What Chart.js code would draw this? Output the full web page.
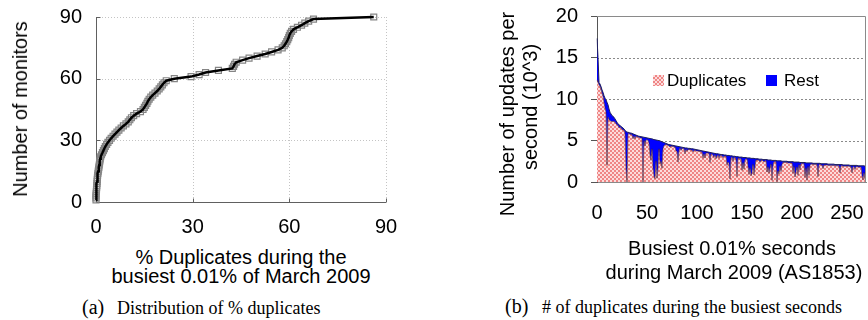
<!DOCTYPE html>
<html>
<head>
<meta charset="utf-8">
<script src="https://cdn.jsdelivr.net/npm/chart.js@4/dist/chart.umd.min.js"></script>
<style>
  body { margin: 0; background: #fff; }
  #page { position: relative; width: 868px; height: 320px; overflow: hidden; font-family: 'Liberation Sans', Arial, sans-serif; color: #000; }
  .box { position: absolute; }
  .t { position: absolute; white-space: nowrap; transform: translate(-50%, -50%); font-size: 20px; line-height: 20px; }
  .rot { transform: translate(-50%, -50%) rotate(-90deg); }
  .cap { position: absolute; white-space: nowrap; font-family: 'Liberation Serif', 'Times New Roman', serif; }
  .leg { position: absolute; font-size: 17px; line-height: 17px; white-space: nowrap; }
  .sw { position: absolute; width: 11px; height: 11px; }
</style>
</head>
<body>
<div id="page">
  <div class="box" style="left:0;top:0;width:430px;height:240px;"><canvas id="dupCdf"></canvas></div>
  <div class="box" style="left:460px;top:0;width:408px;height:240px;"><canvas id="busiest"></canvas></div>

  <div class="t rot" style="left:20px;top:109px;">Number of monitors</div>
  <div class="t" style="left:241px;top:257px;">% Duplicates during the</div>
  <div class="t" style="left:241px;top:276px;">busiest 0.01% of March 2009</div>

  <div class="t rot" style="left:507px;top:114px;">Number of updates per</div>
  <div class="t rot" style="left:530px;top:107px;">second (10^3)</div>
  <div class="t" style="left:732px;top:248px;">Busiest 0.01% seconds</div>
  <div class="t" style="left:734px;top:272px;">during March 2009 (AS1853)</div>

  <div class="sw" style="left:653px;top:75px;background:repeating-conic-gradient(#ef8585 0 25%, #fcdcdc 0 50%) 0 0/4px 4px;"></div>
  <div class="leg" style="left:667px;top:72px;">Duplicates</div>
  <div class="sw" style="left:766px;top:75px;background:#0000ff;"></div>
  <div class="leg" style="left:784px;top:72px;">Rest</div>

  <div class="cap" style="left:82px;top:297px;font-size:20px;line-height:20px;">(a)</div>
  <div class="cap" style="left:117px;top:299px;font-size:18px;line-height:18px;">Distribution of % duplicates</div>
  <div class="cap" style="left:505px;top:296px;font-size:20px;line-height:20px;">(b)</div>
  <div class="cap" style="left:542px;top:298px;font-size:18px;line-height:18px;">&#35; of duplicates during the busiest seconds</div>
</div>

<script>
// (a) CDF: % duplicates per monitor, sorted
const pctDuplicates = [
  0, 0, 0, 0.05, 0.1, 0.15, 0.2, 0.25, 0.3, 0.35,
  0.4, 0.45, 0.5, 0.6, 0.7, 0.8, 0.9, 1.0, 1.1, 1.2,
  1.3, 1.45, 1.7, 2.0, 2.3, 2.6, 2.9, 3.3, 3.7, 4.2,
  4.7, 5.3, 5.9, 6.5, 7.1, 7.8, 8.5, 9.3, 10.0, 10.5,
  11.0, 11.7, 12.6, 13.8, 14.6, 15.0, 15.4, 15.8, 16.1, 16.5,
  17.0, 17.6, 18.3, 19.0, 19.6, 20.1, 20.6, 21.1, 21.8, 24.3,
  29.5, 32.0, 34.0, 38.0, 42.3, 42.7, 43.0, 43.5, 45.5, 47.5,
  50.0, 52.5, 54.5, 56.5, 57.8, 58.4, 58.8, 59.2, 59.5, 59.8,
  60.0, 60.3, 60.7, 61.3, 62.5, 63.8, 64.8, 66.0, 67.5, 86.2
];
const monitorCount = [
  1, 2, 3, 4, 5, 6, 7, 8, 9, 10,
  11, 12, 13, 14, 15, 16, 17, 18, 19, 20,
  21, 22, 23, 24, 25, 26, 27, 28, 29, 30,
  31, 32, 33, 34, 35, 36, 37, 38, 39, 40,
  41, 42, 43, 44, 45, 46, 47, 48, 49, 50,
  51, 52, 53, 54, 55, 56, 57, 58, 59, 60,
  61, 62, 63, 64, 65, 66, 67, 68, 69, 70,
  71, 72, 73, 74, 75, 76, 77, 78, 79, 80,
  81, 82, 83, 84, 85, 86, 87, 88, 89, 90
];
const cdfXTicks = [0, 30, 60, 90];
const cdfYTicks = [0, 30, 60, 90];

// (b) busiest seconds, thousands of updates per second
const duplicates = [
  12.3, 12.0, 11.7, 11.5, 11.1, 10.7, 10.3, 9.6, 8.9, 8.4,
  2.0, 7.8, 7.5, 7.4, 7.3, 7.3, 7.3, 7.3, 7.2, 7.0,
  6.9, 6.8, 6.5, 6.6, 6.5, 6.3, 6.3, 6.2, 5.9, 1.6,
  0, 5.8, 5.8, 5.75, 5.7, 5.7, 5.2, 5.55, 5.2, 5.5,
  5.45, 5.4, 5.35, 5.3, 5.3, 5.3, 0, 5.0, 4.35, 5.05,
  5.1, 5.0, 4.65, 3.25, 2.6, 4.0, 1.65, 0.7, 0.4, 2.55,
  0.45, 1.6, 4.0, 2.15, 2.5, 1.65, 4.0, 4.35, 4.5, 4.5,
  4.45, 4.4, 4.35, 4.2, 4.3, 4.3, 4.25, 4.25, 4.2, 3.75,
  3.7, 2.4, 3.75, 4.1, 3.8, 4.05, 4.0, 4.0, 3.4, 3.95,
  3.7, 3.9, 3.9, 3.9, 3.85, 3.85, 3.6, 3.8, 3.8, 3.75,
  3.75, 3.7, 3.7, 3.65, 3.65, 3.6, 2.85, 3.4, 2.9, 3.5,
  3.5, 3.45, 3.45, 2.35, 3.4, 3.35, 3.2, 2.95, 3.3, 2.8,
  3.1, 3.25, 2.85, 3.2, 3.15, 3.15, 2.9, 3.1, 3.1, 3.1,
  2.0, 2.4, 2.2, 0.35, 2.85, 3.0, 2.5, 2.95, 2.95, 2.65,
  0.65, 2.9, 2.85, 2.7, 2.85, 1.4, 2.35, 1.55, 2.65, 2.8,
  2.75, 1.9, 0.9, 1.7, 0.75, 1.05, 2.15, 0.85, 1.8, 2.65,
  2.65, 2.65, 2.6, 2.35, 2.6, 2.6, 2.55, 2.4, 2.55, 2.55,
  1.2, 1.85, 1.05, 1.65, 2.15, 0.2, 2.0, 2.45, 2.45, 2.45,
  0.05, 1.35, 0.95, 1.95, 1.25, 2.1, 2.35, 2.35, 2.35, 2.35,
  2.35, 2.3, 2.3, 2.3, 2.3, 2.3, 1.05, 1.9, 0.6, 1.2,
  1.8, 0.8, 2.1, 1.45, 2.2, 2.2, 2.2, 2.2, 0.55, 1.7,
  0.2, 1.9, 0.8, 2.0, 2.15, 2.15, 2.1, 2.1, 2.1, 2.1,
  2.1, 0.65, 2.1, 2.1, 2.05, 2.05, 1.6, 2.05, 2.05, 2.05,
  2.05, 2.0, 2.0, 2.0, 2.0, 2.0, 2.0, 2.0, 1.95, 1.95,
  1.95, 1.95, 1.95, 1.1, 1.95, 1.95, 1.9, 1.9, 1.9, 1.9,
  1.9, 1.9, 1.9, 1.85, 1.85, 1.1, 1.85, 1.85, 1.5, 1.85,
  1.85, 1.8, 1.8, 1.8, 1.8, 0.75, 0.25, 1.15, 0.3, 0.4
];
const rest = [
  5.0, 3.0, 0.3, 0.3, 0.4, 0.4, 0.5, 0.8, 1.2, 1.5,
  7.6, 1.5, 1.3, 1.0, 0.9, 0.7, 0.6, 0.5, 0.4, 0.4,
  0.3, 0.2, 0.4, 0.2, 0.2, 0.3, 0.2, 0.2, 0.3, 4.5,
  6.0, 0.2, 0.15, 0.15, 0.2, 0.15, 0.6, 0.2, 0.5, 0.15,
  0.15, 0.15, 0.15, 0.2, 0.15, 0.15, 5.4, 0.4, 1.0, 0.3,
  0.2, 0.3, 0.6, 2.0, 2.6, 1.2, 3.5, 4.4, 4.7, 2.5,
  4.6, 3.4, 1.0, 2.8, 2.4, 3.2, 0.8, 0.4, 0.2, 0.15,
  0.15, 0.15, 0.15, 0.3, 0.15, 0.15, 0.15, 0.15, 0.15, 0.6,
  0.6, 1.9, 0.5, 0.15, 0.4, 0.15, 0.15, 0.15, 0.7, 0.15,
  0.4, 0.15, 0.15, 0.15, 0.15, 0.15, 0.4, 0.15, 0.15, 0.15,
  0.15, 0.15, 0.15, 0.15, 0.15, 0.15, 0.9, 0.3, 0.8, 0.15,
  0.15, 0.15, 0.15, 1.2, 0.15, 0.15, 0.3, 0.5, 0.15, 0.6,
  0.3, 0.15, 0.5, 0.15, 0.15, 0.15, 0.4, 0.15, 0.15, 0.15,
  1.2, 0.8, 1.0, 2.8, 0.3, 0.15, 0.6, 0.15, 0.15, 0.4,
  2.4, 0.15, 0.15, 0.3, 0.15, 1.6, 0.6, 1.4, 0.3, 0.15,
  0.15, 1.0, 2.0, 1.2, 2.1, 1.8, 0.7, 2.0, 1.0, 0.15,
  0.15, 0.15, 0.15, 0.4, 0.15, 0.15, 0.15, 0.3, 0.15, 0.15,
  1.5, 0.8, 1.6, 1.0, 0.5, 2.4, 0.6, 0.15, 0.15, 0.15,
  2.5, 1.2, 1.6, 0.6, 1.3, 0.4, 0.15, 0.15, 0.15, 0.15,
  0.15, 0.15, 0.15, 0.15, 0.15, 0.15, 1.4, 0.5, 1.8, 1.2,
  0.6, 1.6, 0.3, 0.9, 0.15, 0.15, 0.15, 0.15, 1.8, 0.6,
  2.1, 0.4, 1.5, 0.3, 0.15, 0.15, 0.15, 0.15, 0.15, 0.15,
  0.15, 1.6, 0.15, 0.15, 0.15, 0.15, 0.6, 0.15, 0.15, 0.15,
  0.15, 0.15, 0.15, 0.15, 0.15, 0.15, 0.15, 0.15, 0.15, 0.15,
  0.15, 0.15, 0.15, 1.0, 0.15, 0.15, 0.15, 0.15, 0.15, 0.15,
  0.15, 0.15, 0.15, 0.15, 0.15, 0.9, 0.15, 0.15, 0.5, 0.15,
  0.15, 0.15, 0.15, 0.15, 0.15, 1.2, 1.7, 0.8, 1.6, 1.5
];
const secondRank = duplicates.map((_, i) => i);
const busyXTicks = [0, 50, 100, 150, 200, 250];
const busyYTicks = [0, 5, 10, 15, 20];

const sans = { family: "'Liberation Sans', Arial, sans-serif", size: 20 };

// keep the plot area where the layout padding puts it
function noAxisPadding(s) {
  s.paddingTop = 0; s.paddingBottom = 0; s.paddingLeft = 0; s.paddingRight = 0;
}

// ---------- (a) ----------
const cdfFrame = {
  id: 'cdfFrame',
  beforeDatasetsDraw(chart) {
    const { ctx, chartArea: a, scales: { x, y } } = chart;
    ctx.save();
    ctx.lineWidth = 1;
    ctx.strokeStyle = '#c4c4c4';
    ctx.setLineDash([1, 2]);
    cdfXTicks.slice(1).forEach(v => {
      const px = Math.round(x.getPixelForValue(v)) + 0.5;
      ctx.beginPath(); ctx.moveTo(px, a.top); ctx.lineTo(px, a.bottom); ctx.stroke();
    });
    cdfYTicks.slice(1).forEach(v => {
      const py = Math.round(y.getPixelForValue(v)) + 0.5;
      ctx.beginPath(); ctx.moveTo(a.left, py); ctx.lineTo(a.right, py); ctx.stroke();
    });
    ctx.setLineDash([]);
    ctx.strokeStyle = '#606060';
    const l = Math.round(a.left) + 0.5, b = Math.round(a.bottom) + 0.5;
    ctx.beginPath(); ctx.moveTo(l, a.top); ctx.lineTo(l, b); ctx.lineTo(a.right, b); ctx.stroke();
    // inside tick marks
    cdfXTicks.forEach(v => {
      const px = Math.round(x.getPixelForValue(v)) + 0.5;
      ctx.beginPath(); ctx.moveTo(px, b); ctx.lineTo(px, b - 4); ctx.stroke();
    });
    cdfYTicks.forEach(v => {
      const py = Math.round(y.getPixelForValue(v)) + 0.5;
      ctx.beginPath(); ctx.moveTo(l, py); ctx.lineTo(l + 4, py); ctx.stroke();
    });
    ctx.restore();
  }
};

const cdfPoints = pctDuplicates.map((v, i) => ({ x: v, y: monitorCount[i] }));

new Chart(document.getElementById('dupCdf'), {
  type: 'scatter',
  data: {
    datasets: [
      { data: cdfPoints, showLine: true, borderColor: '#000', borderWidth: 2.5, pointRadius: 0, order: 0, clip: false },
      { data: cdfPoints, showLine: false, pointStyle: 'rect', pointRadius: 4.2, borderWidth: 1.2,
        borderColor: '#858585', backgroundColor: 'rgba(0,0,0,0)', order: 1, clip: false }
    ]
  },
  options: {
    responsive: true,
    maintainAspectRatio: false,
    animation: false,
    events: [],
    layout: { padding: { left: 0, right: 44, top: 17, bottom: 0 } },
    plugins: { legend: { display: false }, tooltip: { enabled: false } },
    scales: {
      x: {
        type: 'linear', min: 0, max: 90,
        afterBuildTicks: s => { s.ticks = cdfXTicks.map(v => ({ value: v })); },
        afterFit: s => { s.height = 38; noAxisPadding(s); },
        grid: { display: false }, border: { display: false },
        ticks: { font: sans, color: '#000', padding: 5, maxRotation: 0 }
      },
      y: {
        type: 'linear', min: 0, max: 90,
        afterBuildTicks: s => { s.ticks = cdfYTicks.map(v => ({ value: v })); },
        afterFit: s => { s.width = 96; noAxisPadding(s); },
        grid: { display: false }, border: { display: false },
        ticks: { font: sans, color: '#000', padding: 6 }
      }
    }
  },
  plugins: [cdfFrame]
});

// ---------- (b) ----------
const tile = document.createElement('canvas');
tile.width = 4; tile.height = 4;
const tctx = tile.getContext('2d');
tctx.fillStyle = '#fcdcdc'; tctx.fillRect(0, 0, 4, 4);
tctx.fillStyle = '#ef8585'; tctx.fillRect(0, 0, 2, 2); tctx.fillRect(2, 2, 2, 2);
const pinkHatch = tctx.createPattern(tile, 'repeat');

const busyFrame = {
  id: 'busyFrame',
  beforeDatasetsDraw(chart) {
    const { ctx, chartArea: a, scales: { y } } = chart;
    ctx.save();
    ctx.lineWidth = 1;
    ctx.strokeStyle = '#8a8a8a';
    ctx.setLineDash([2, 2]);
    busyYTicks.slice(1, -1).forEach(v => {
      const py = Math.round(y.getPixelForValue(v)) + 0.5;
      ctx.beginPath(); ctx.moveTo(a.left, py); ctx.lineTo(a.right, py); ctx.stroke();
    });
    ctx.restore();
  },
  afterDatasetsDraw(chart) {
    const { ctx, chartArea: a } = chart;
    ctx.save();
    ctx.lineWidth = 1;
    ctx.strokeStyle = '#8a8a8a';
    const t = Math.round(a.top) + 0.5, r = Math.round(a.right) - 0.5;
    ctx.beginPath(); ctx.moveTo(a.left, t); ctx.lineTo(r, t); ctx.lineTo(r, a.bottom); ctx.stroke();
    ctx.restore();
  }
};

new Chart(document.getElementById('busiest'), {
  type: 'line',
  data: {
    labels: secondRank,
    datasets: [
      { label: 'Duplicates', data: duplicates, fill: 'origin', backgroundColor: pinkHatch,
        borderColor: 'rgba(70,30,50,0.75)', borderWidth: 0.8, pointRadius: 0, tension: 0 },
      { label: 'Rest', data: rest, fill: '-1', backgroundColor: '#0000ff',
        borderColor: '#20205a', borderWidth: 1, pointRadius: 0, tension: 0 }
    ]
  },
  options: {
    responsive: true,
    maintainAspectRatio: false,
    animation: false,
    events: [],
    layout: { padding: { left: 0, right: 2, top: 16, bottom: 0 } },
    plugins: { legend: { display: false }, tooltip: { enabled: false } },
    scales: {
      x: {
        type: 'category', offset: false,
        afterFit: s => { s.height = 58; noAxisPadding(s); },
        grid: { display: false },
        border: { display: true, color: '#8a8a8a' },
        ticks: {
          autoSkip: false, maxRotation: 0, font: sans, color: '#000', padding: 11,
          callback: (v, i) => busyXTicks.includes(i) ? String(i) : ''
        }
      },
      y: {
        type: 'linear', min: 0, max: 20, stacked: true,
        afterBuildTicks: s => { s.ticks = busyYTicks.map(v => ({ value: v })); },
        afterFit: s => { s.width = 137; noAxisPadding(s); },
        grid: { display: true, drawOnChartArea: false, drawTicks: true, tickLength: 6, color: '#555' },
        border: { display: true, color: '#555' },
        ticks: { font: sans, color: '#000', padding: 13 }
      }
    }
  },
  plugins: [busyFrame]
});
</script>
</body>
</html>
